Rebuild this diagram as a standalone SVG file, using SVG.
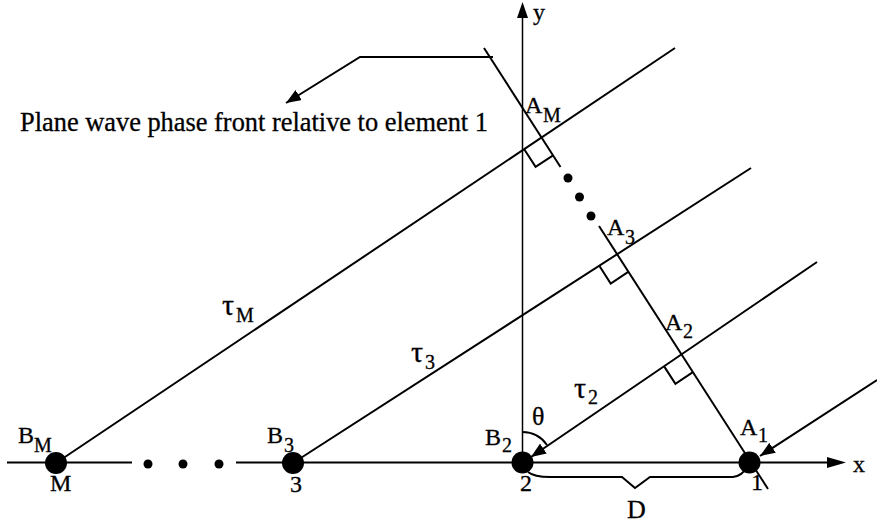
<svg xmlns="http://www.w3.org/2000/svg" width="877" height="525" viewBox="0 0 877 525">
<style>
.ln{stroke:#000;stroke-width:2;fill:none}
.thin{stroke:#000;stroke-width:1.5;fill:none}
.t{font-family:"Liberation Serif","Times New Roman",serif;fill:#000;font-size:24px;stroke:#000;stroke-width:0.3}
.s{font-size:20px}
.g{font-size:30px}
</style>
<defs>
<marker id="ah" markerUnits="userSpaceOnUse" markerWidth="16" markerHeight="12" refX="15" refY="6" orient="auto">
<path d="M0,0 L15,6 L0,12 z" fill="#000"/>
</marker>
</defs>
<rect width="877" height="525" fill="#fff"/>
<g id="connectors">
<line class="ln" x1="7" y1="462.5" x2="132" y2="462.5"/>
<line class="ln" x1="236" y1="462.5" x2="830" y2="462.5"/>
<polygon points="827,457 846,462.5 827,468" fill="#000"/>
<line class="thin" x1="522.5" y1="462" x2="522.5" y2="16"/>
<polygon points="517,18 522.5,2 528,18" fill="#000"/>
<circle cx="148" cy="464" r="4.5"/>
<circle cx="183" cy="464" r="4.5"/>
<circle cx="219" cy="464" r="4.5"/>
<line class="ln" x1="56" y1="463" x2="675" y2="48"/>
<line class="ln" x1="293" y1="463" x2="751" y2="168"/>
<line class="ln" x1="817" y1="262" x2="531" y2="457" marker-end="url(#ah)"/>
<line class="ln" x1="877" y1="380" x2="760" y2="456" marker-end="url(#ah)"/>
<line class="ln" x1="484" y1="48" x2="560.5" y2="167"/>
<line class="ln" x1="599" y1="226" x2="768" y2="489"/>
<circle cx="568" cy="178" r="4.5"/>
<circle cx="579.5" cy="197" r="4.5"/>
<circle cx="591" cy="216" r="4.5"/>
<polyline class="ln" points="524.2,149.2 535.6,166.9 553.1,155.3"/>
<polyline class="ln" points="599.3,265.8 610.7,283.5 628.2,271.9"/>
<polyline class="ln" points="664,366.1 675.4,383.8 692.9,372.2"/>
<polyline class="ln" points="493,57 360,57 286,103" marker-end="url(#ah)"/>
<path class="ln" d="M522.5,432 A30,30 0 0,1 547,445"/>
<path class="ln" d="M528,472 Q534,477 550,477 L622,477 L635,488 L650,477 L733,477 Q742,476 746,468"/>
</g>
<g id="element-M">
<circle cx="56" cy="463" r="11"/>
<text class="t" x="18" y="443">B</text><text class="t s" x="34" y="452">M</text>
<text class="t" x="50" y="491">M</text>
</g>
<g id="element-3">
<circle cx="293" cy="463" r="11"/>
<text class="t" x="267" y="443">B</text><text class="t s" x="284" y="452">3</text>
<text class="t" x="290" y="492">3</text>
</g>
<g id="element-2">
<circle cx="522.5" cy="462.5" r="11"/>
<text class="t" x="485" y="445">B</text><text class="t s" x="502" y="452">2</text>
<text class="t" x="520" y="491">2</text>
</g>
<g id="element-1">
<circle cx="749.5" cy="462.5" r="11"/>
<text class="t" x="740" y="435">A</text><text class="t s" x="758" y="442">1</text>
<text class="t" x="751" y="490">1</text>
</g>
<g id="labels">
<text class="t" x="533" y="20">y</text>
<text class="t" x="853" y="472">x</text>
<text class="t" x="525" y="113">A</text><text class="t s" x="543" y="122">M</text>
<text class="t" x="607" y="235">A</text><text class="t s" x="625" y="244">3</text>
<text class="t" x="665" y="330">A</text><text class="t s" x="683" y="338">2</text>
<text class="t g" x="222" y="315">τ</text><text class="t s" x="236" y="322">M</text>
<text class="t g" x="411" y="362">τ</text><text class="t s" x="425" y="369">3</text>
<text class="t g" x="574" y="398">τ</text><text class="t s" x="588" y="404">2</text>
<text class="t" x="532" y="425" style="font-size:26px">θ</text>
<text class="t" x="627" y="518" style="font-size:26px">D</text>
<text class="t" x="20" y="131" style="font-size:26.4px" textLength="468" lengthAdjust="spacing">Plane wave phase front relative to element 1</text>
</g>
</svg>
